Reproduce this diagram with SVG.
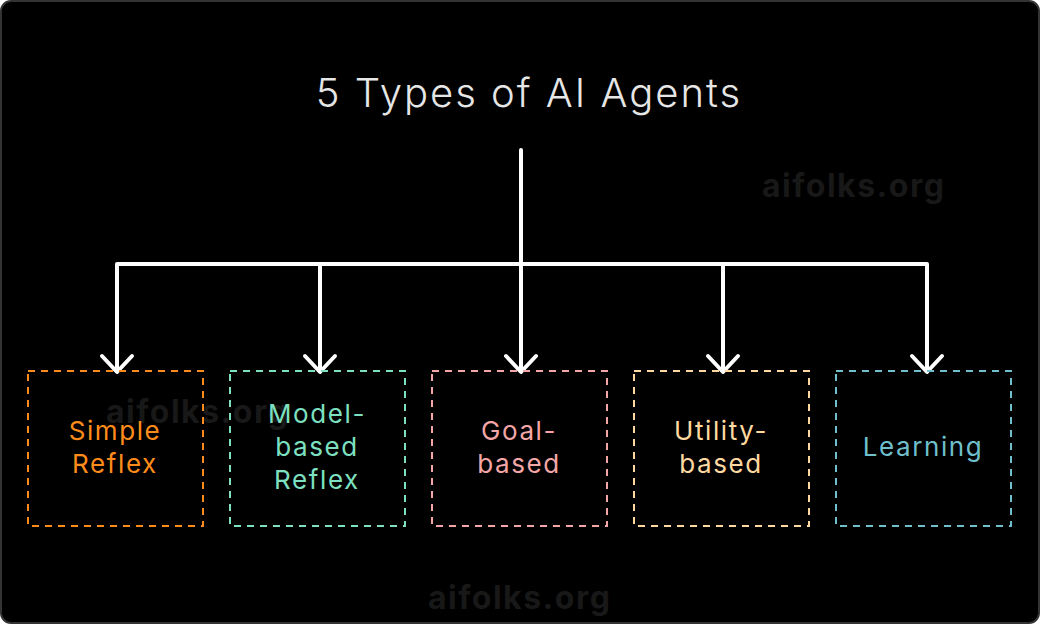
<svg xmlns="http://www.w3.org/2000/svg" width="1040" height="624" viewBox="0 0 1040 624">
<style>
.wm{font-family:Inter,"Liberation Sans",sans-serif;font-weight:700;font-size:32px;fill:#181818;letter-spacing:1.5px}
.lbl{font-family:Inter,"Liberation Sans",sans-serif;font-size:26px;text-anchor:middle;letter-spacing:1.6px}
.box{fill:none;stroke-width:2;stroke-dasharray:7 6}
.conn{fill:none;stroke:#fff;stroke-width:4;stroke-linecap:round;stroke-linejoin:round}
</style>
<rect x="1" y="1" width="1038" height="622" rx="10" fill="#000" stroke="#333" stroke-width="2"/>
<text class="wm" x="762" y="197">aifolks.org</text>
<text class="wm" x="106" y="423">aifolks.org</text>
<text class="wm" x="428" y="609">aifolks.org</text>
<text x="529" y="107" text-anchor="middle" font-family="Inter,'Liberation Sans',sans-serif" font-weight="300" font-size="40" fill="#e6e6e6" letter-spacing="2">5 Types of AI Agents</text>
<g id="connectors" class="conn">
<path d="M521 150 V265"/>
<path d="M117 370 V264 H927 V370"/>
<path d="M320 264 V370"/>
<path d="M521 264 V370"/>
<path d="M723 264 V370"/>
<path d="M102 356 L117 372 L132 356"/>
<path d="M305 356 L320 372 L335 356"/>
<path d="M506 356 L521 372 L536 356"/>
<path d="M708 356 L723 372 L738 356"/>
<path d="M912 356 L927 372 L942 356"/>
</g>
<g id="simple-reflex">
<rect class="box" x="28" y="371" width="175" height="155" stroke="#ff8c1a"/>
<text class="lbl" fill="#ff8c1a" x="115" y="440">Simple</text>
<text class="lbl" fill="#ff8c1a" x="115" y="473">Reflex</text>
</g>
<g id="model-based-reflex">
<rect class="box" x="230" y="371" width="175" height="155" stroke="#7de0c0"/>
<text class="lbl" fill="#7de0c0" x="317" y="423">Model-</text>
<text class="lbl" fill="#7de0c0" x="317" y="456">based</text>
<text class="lbl" fill="#7de0c0" x="317" y="489">Reflex</text>
</g>
<g id="goal-based">
<rect class="box" x="432" y="371" width="175" height="155" stroke="#f4a6a6"/>
<text class="lbl" fill="#f4a6a6" x="519" y="440">Goal-</text>
<text class="lbl" fill="#f4a6a6" x="519" y="473">based</text>
</g>
<g id="utility-based">
<rect class="box" x="634" y="371" width="175" height="155" stroke="#ffd9a0"/>
<text class="lbl" fill="#ffd9a0" x="721" y="440">Utility-</text>
<text class="lbl" fill="#ffd9a0" x="721" y="473">based</text>
</g>
<g id="learning">
<rect class="box" x="836" y="371" width="175" height="155" stroke="#6fbfcc"/>
<text class="lbl" fill="#6fbfcc" x="923" y="456">Learning</text>
</g>
</svg>
